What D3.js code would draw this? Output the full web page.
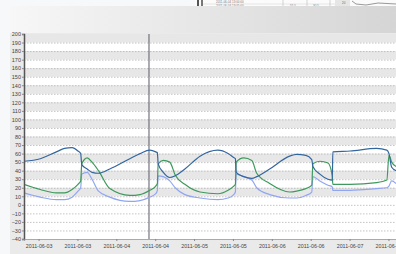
<!DOCTYPE html>
<html>
<head>
<meta charset="utf-8">
<script src="https://cdn.jsdelivr.net/npm/d3@7"></script>
<style>
body { margin: 0; background: #f7f8fa; }
svg { display: block; font-family: "Liberation Sans", Arial, sans-serif; }
</style>
</head>
<body>
<div id="chart"></div>
<script>
// sample times (shared by the three series)
var times = ["2011-06-02 19:30", "2011-06-03 00:30", "2011-06-03 05:30", "2011-06-03 08:00", "2011-06-03 10:20",
             "2011-06-03 12:10", "2011-06-03 13:00", "2011-06-03 13:20", "2011-06-03 15:00", "2011-06-03 16:30",
             "2011-06-03 18:30", "2011-06-03 22:00", "2011-06-04 04:10", "2011-06-04 07:20", "2011-06-04 10:20",
             "2011-06-04 12:10", "2011-06-04 12:40", "2011-06-04 12:55", "2011-06-04 14:30", "2011-06-04 16:30",
             "2011-06-04 18:10", "2011-06-04 21:10", "2011-06-05 01:50", "2011-06-05 07:20", "2011-06-05 10:30",
             "2011-06-05 12:00", "2011-06-05 12:45", "2011-06-05 13:00", "2011-06-05 15:20", "2011-06-05 17:50",
             "2011-06-05 19:20", "2011-06-05 23:20", "2011-06-06 05:30", "2011-06-06 07:40", "2011-06-06 10:30",
             "2011-06-06 12:20", "2011-06-06 12:40", "2011-06-06 14:50", "2011-06-06 17:20", "2011-06-06 18:40",
             "2011-06-06 18:50", "2011-06-07 00:10", "2011-06-07 08:20", "2011-06-07 11:30", "2011-06-07 12:10",
             "2011-06-07 13:00", "2011-06-07 14:20"];

var darkBlue  = [51, 54, 62, 66, 67, 63, 60, 47, 42, 38, 37, 42, 54, 60, 64, 62, 61, 48, 38, 32, 34, 42, 57, 64, 60,
                 56, 54, 38, 33, 31, 33, 42, 57, 59, 58, 53, 45, 36, 30, 29, 62, 63, 66, 64, 60, 44, 40];
var green     = [24, 18, 14, 14, 18, 24, 28, 48, 55, 50, 40, 19, 11, 12, 17, 22, 25, 48, 52, 50, 35, 24, 15, 13, 17,
                 21, 24, 50, 55, 52, 37, 25, 15, 16, 19, 23, 48, 51, 49, 34, 24, 24, 26, 29, 58, 50, 45];
var lightBlue = [14, 9, 6, 6, 9, 16, 20, 36, 38, 30, 16, 9, 4, 5, 9, 13, 17, 34, 33, 28, 20, 12, 8, 6, 8,
                 11, 15, 36, 33, 29, 20, 12, 8, 8, 11, 15, 33, 28, 23, 21, 17, 17, 19, 20, 22, 28, 25];

var yTicks = d3.range(-40, 201, 10);
var xTicks = ["2011-06-03 00:00", "2011-06-03 12:00", "2011-06-04 00:00", "2011-06-04 12:00", "2011-06-05 00:00",
              "2011-06-05 12:00", "2011-06-06 00:00", "2011-06-06 12:00", "2011-06-07 00:00", "2011-06-07 12:00"];
var cursorTime = "2011-06-04 10:05";

var width = 396, height = 254;
var parse = d3.timeParse("%Y-%m-%d %H:%M");

var svg = d3.select("#chart").append("svg")
    .attr("width", width)
    .attr("height", height);

var defs = svg.append("defs");
var grad = defs.append("linearGradient").attr("id", "head");
grad.append("stop").attr("offset", "0%").attr("stop-color", "#f7f7f7");
grad.append("stop").attr("offset", "100%").attr("stop-color", "#d5d5d5");

defs.append("clipPath").attr("id", "plotclip")
    .append("rect").attr("x", 24).attr("y", 34).attr("width", 372).attr("height", 205);

// bits of another window peeking in at the top right
var peek = svg.append("g");
peek.append("rect").attr("x", 195).attr("y", 0).attr("width", 201).attr("height", 8).attr("fill", "#fbfbfb");
peek.append("rect").attr("x", 197).attr("y", 0).attr("width", 2).attr("height", 7).attr("fill", "#555");
peek.append("rect").attr("x", 201).attr("y", 0).attr("width", 2).attr("height", 7).attr("fill", "#777");
peek.append("line").attr("x1", 203).attr("x2", 335).attr("y1", 4).attr("y2", 4).attr("stroke", "#ccc").attr("stroke-width", 0.5);
[283, 307, 330].forEach(function (cx) {
  peek.append("line").attr("x1", cx).attr("x2", cx).attr("y1", 0).attr("y2", 8).attr("stroke", "#bbb").attr("stroke-width", 0.6);
});
peek.append("text").attr("x", 216).attr("y", 2.5).attr("font-size", 3).attr("fill", "#777").text("2011-06-04 13:00:00");
peek.append("text").attr("x", 216).attr("y", 7).attr("font-size", 3).attr("fill", "#777").text("2011-06-04 13:05:00");
peek.append("text").attr("x", 290).attr("y", 7).attr("font-size", 3).attr("fill", "#777").text("55.5");
peek.append("text").attr("x", 313).attr("y", 7).attr("font-size", 3).attr("fill", "#777").text("30.5");
peek.append("rect").attr("x", 335).attr("y", 0).attr("width", 15).attr("height", 8).attr("fill", "#e6e6e6");
peek.append("text").attr("x", 342).attr("y", 4).attr("font-size", 3).attr("fill", "#666").text("20");
peek.append("path").attr("d", "M352,1 L356,4 L366,5 L378,3 L396,4").attr("fill", "none").attr("stroke", "#555").attr("stroke-width", 0.6);

// header bar
svg.append("rect").attr("x", 10).attr("y", 6).attr("width", 386).attr("height", 27).attr("fill", "url(#head)");
svg.append("rect").attr("x", 10).attr("y", 33).attr("width", 386).attr("height", 221).attr("fill", "#eaeaea");

var x = d3.scaleTime()
    .domain([parse(times[0]), parse(times[times.length - 1])])
    .range([24, 396]);
var y = d3.scaleLinear().domain([-40, 200]).range([239, 34]);

var plot = svg.append("g").attr("clip-path", "url(#plotclip)");
plot.append("rect").attr("x", 24).attr("y", 34).attr("width", 372).attr("height", 205).attr("fill", "#fff");

// grey bands
plot.selectAll(".band")
    .data(yTicks.filter(function (v) { return v >= 10 && v < 200 && (v / 10) % 2 == 1; }))
    .enter().append("rect")
    .attr("x", 24).attr("width", 372)
    .attr("y", function (v) { return y(v + 10); })
    .attr("height", function (v) { return y(v) - y(v + 10); })
    .attr("fill", "#e7e7e7");

plot.selectAll(".grid")
    .data(yTicks.filter(function (v) { return v > -40 && v < 200; }))
    .enter().append("line")
    .attr("x1", 24).attr("x2", 396)
    .attr("y1", function (v) { return y(v) + 0.5; })
    .attr("y2", function (v) { return y(v) + 0.5; })
    .attr("stroke", "#b5b5b5")
    .attr("stroke-width", 0.8)
    .attr("stroke-dasharray", "1.5,1.5");

// cursor line
plot.append("line")
    .attr("x1", x(parse(cursorTime))).attr("x2", x(parse(cursorTime)))
    .attr("y1", 34).attr("y2", 239)
    .attr("stroke", "#5a5a66").attr("stroke-width", 1);

var pts = times.map(function (t, i) { return { t: parse(t), i: i }; });
var series = [
  { vals: lightBlue, color: "#91a6f2" },
  { vals: green, color: "#3d9a5c" },
  { vals: darkBlue, color: "#33669e" }
];
series.forEach(function (s) {
  var line = d3.line()
      .x(function (d) { return x(d.t); })
      .y(function (d) { return y(s.vals[d.i]); })
      .curve(d3.curveMonotoneX);
  plot.append("path")
      .attr("d", line(pts))
      .attr("fill", "none")
      .attr("stroke", s.color)
      .attr("stroke-width", 1.2);
});

// axes
var yAxis = svg.append("g")
    .attr("transform", "translate(24,0)")
    .call(d3.axisLeft(y).tickValues(yTicks).tickSize(2).tickPadding(1));
yAxis.select(".domain").attr("stroke", "#555").attr("stroke-width", 1.5);
yAxis.selectAll(".tick line").attr("stroke", "#888");
yAxis.selectAll("text").attr("font-size", 5.5).attr("fill", "#444").attr("font-family", "Liberation Sans, Arial, sans-serif");

var xAxis = svg.append("g")
    .attr("transform", "translate(0,239)")
    .call(d3.axisBottom(x).tickValues(xTicks.map(parse)).tickFormat(d3.timeFormat("%Y-%m-%d")).tickSize(2).tickPadding(3));
xAxis.select(".domain").attr("stroke", "#999").attr("stroke-width", 0.8);
xAxis.selectAll(".tick line").attr("stroke", "#888");
xAxis.selectAll("text").attr("font-size", 5.3).attr("fill", "#444").attr("font-family", "Liberation Sans, Arial, sans-serif");
</script>
</body>
</html>
